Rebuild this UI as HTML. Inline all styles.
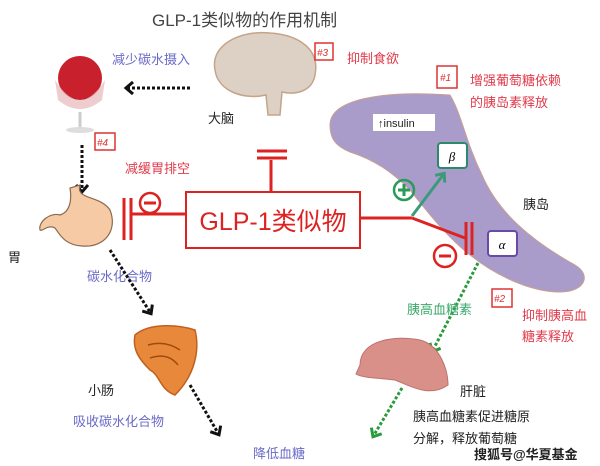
<!DOCTYPE html>
<html><head><meta charset="utf-8"><style>
body{margin:0;background:#fff;}
svg{display:block;font-family:"Liberation Sans","Noto Sans CJK SC",sans-serif;}
.r{fill:#e03a4a;font-size:13px;}
.b{fill:#6a6ac8;font-size:13px;}
.k{fill:#222;font-size:13px;}
.g{fill:#3aa86a;font-size:13px;}
</style></head><body>
<svg width="600" height="466" viewBox="0 0 600 466">
<defs>
<marker id="ak" markerUnits="userSpaceOnUse" markerWidth="12" markerHeight="14" refX="6" refY="7" orient="auto"><path d="M1,1 L8,7 L1,13" fill="none" stroke="#111" stroke-width="3"/></marker>
<marker id="ag" markerUnits="userSpaceOnUse" markerWidth="12" markerHeight="14" refX="6" refY="7" orient="auto"><path d="M1,1 L8,7 L1,13" fill="none" stroke="#2a9a3a" stroke-width="3"/></marker>
<marker id="at" markerUnits="userSpaceOnUse" markerWidth="12" markerHeight="14" refX="6" refY="7" orient="auto"><path d="M1,1 L8,7 L1,13" fill="none" stroke="#3a9a7a" stroke-width="3"/></marker>
</defs>
<text x="152" y="26" font-size="17" fill="#444">GLP-1类似物的作用机制</text>
<path d="M215,70 C210,45 240,30 270,33 C300,35 320,50 315,75 C312,92 295,95 282,92 L280,115 L268,115 L266,95 C245,100 218,92 215,70Z" fill="#ddd0c4" stroke="#c4a58a" stroke-width="1.5"/>
<rect x="315" y="43" width="18" height="17" fill="none" stroke="#d33" stroke-width="1.5"/>
<text x="317" y="56" font-size="10" fill="#d33" font-style="italic">#3</text>
<text x="347" y="63" class="r">抑制食欲</text>
<text x="208" y="123" class="k">大脑</text>
<ellipse cx="80" cy="78" rx="22" ry="22" fill="#c8202c"/>
<path d="M55,80 Q80,120 105,80 L102,100 Q80,118 58,100Z" fill="#e8c0c4" opacity="0.8"/>
<line x1="80" y1="112" x2="80" y2="128" stroke="#ccc" stroke-width="3"/>
<ellipse cx="80" cy="130" rx="14" ry="3" fill="#ddd"/>
<text x="112" y="64" class="b">减少碳水摄入</text>
<line x1="190" y1="88" x2="128" y2="88" stroke="#111" stroke-width="3" stroke-dasharray="3,2" marker-end="url(#ak)"/>
<line x1="82" y1="145" x2="82" y2="190" stroke="#111" stroke-width="3" stroke-dasharray="3,2" marker-end="url(#ak)"/>
<rect x="95" y="133" width="20" height="17" fill="none" stroke="#d33" stroke-width="1.5"/>
<text x="97" y="146" font-size="10" fill="#d33" font-style="italic">#4</text>
<text x="125" y="173" class="r">减缓胃排空</text>
<path d="M80,185 C75,200 100,195 110,210 C118,230 105,248 82,246 C65,245 60,235 55,228 C48,224 42,232 40,230 C38,222 50,212 60,215 C70,212 72,200 70,188Z" fill="#f6caa4" stroke="#8a6a50" stroke-width="1.2"/>
<text x="8" y="262" class="k">胃</text>
<line x1="186" y1="214" x2="130" y2="214" stroke="#d22" stroke-width="3"/>
<line x1="124" y1="198" x2="124" y2="240" stroke="#d22" stroke-width="3"/>
<line x1="131" y1="198" x2="131" y2="240" stroke="#d22" stroke-width="3"/>
<circle cx="150" cy="203" r="10" fill="none" stroke="#d22" stroke-width="2.5"/>
<line x1="144" y1="203" x2="156" y2="203" stroke="#d22" stroke-width="3"/>
<line x1="271" y1="160" x2="271" y2="192" stroke="#d22" stroke-width="3"/>
<line x1="257" y1="151" x2="287" y2="151" stroke="#d22" stroke-width="3"/>
<line x1="257" y1="158" x2="287" y2="158" stroke="#d22" stroke-width="3"/>
<rect x="186" y="192" width="174" height="56" fill="#fff" stroke="#d22" stroke-width="2"/>
<text x="273" y="230" text-anchor="middle" font-size="25" fill="#d22">GLP-1类似物</text>
<path d="M330,125 C330,100 380,90 450,95 C462,115 465,140 482,175 C498,212 530,240 575,265 C592,275 585,292 560,292 C530,292 495,275 470,255 C448,238 430,215 410,190 C392,172 375,160 350,152 C335,146 330,138 330,125Z" fill="#a99ccb" stroke="#c8a090" stroke-width="1"/>
<rect x="373" y="114" width="62" height="17" fill="#fff"/>
<text x="378" y="127" font-size="11" fill="#222">↑insulin</text>
<rect x="438" y="143" width="29" height="25" rx="3" fill="#fff" stroke="#2a8a6a" stroke-width="2"/>
<text x="452" y="161" text-anchor="middle" font-size="13" font-style="italic" font-family="Liberation Serif,serif">β</text>
<rect x="488" y="231" width="29" height="25" rx="3" fill="#fff" stroke="#6a4aa8" stroke-width="2"/>
<text x="502" y="249" text-anchor="middle" font-size="13" font-style="italic" font-family="Liberation Serif,serif">α</text>
<text x="523" y="209" class="k">胰岛</text>
<rect x="437" y="66" width="20" height="22" fill="none" stroke="#d33" stroke-width="1.5"/>
<text x="440" y="81" font-size="10" fill="#d33" font-style="italic">#1</text>
<text x="470" y="85" class="r">增强葡萄糖依赖</text>
<text x="470" y="107" class="r">的胰岛素释放</text>
<line x1="360" y1="218" x2="412" y2="218" stroke="#d22" stroke-width="3"/>
<line x1="412" y1="218" x2="465" y2="238" stroke="#d22" stroke-width="3"/>
<line x1="466" y1="222" x2="466" y2="255" stroke="#d22" stroke-width="3"/>
<line x1="472" y1="222" x2="472" y2="255" stroke="#d22" stroke-width="3"/>
<line x1="412" y1="216" x2="443" y2="175" stroke="#3a9a7a" stroke-width="3" marker-end="url(#at)"/>
<circle cx="404" cy="190" r="10" fill="none" stroke="#2a9a5a" stroke-width="2.5"/>
<line x1="398" y1="190" x2="410" y2="190" stroke="#2a9a5a" stroke-width="3"/>
<line x1="404" y1="184" x2="404" y2="196" stroke="#2a9a5a" stroke-width="3"/>
<circle cx="445" cy="256" r="11" fill="none" stroke="#d22" stroke-width="2.5"/>
<line x1="439" y1="256" x2="451" y2="256" stroke="#d22" stroke-width="3"/>
<line x1="478" y1="263" x2="433" y2="350" stroke="#2a9a3a" stroke-width="3" stroke-dasharray="3,2" marker-end="url(#ag)"/>
<text x="407" y="314" class="g">胰高血糖素</text>
<rect x="492" y="289" width="20" height="18" fill="none" stroke="#d33" stroke-width="1.5"/>
<text x="494" y="302" font-size="10" fill="#d33" font-style="italic">#2</text>
<text x="522" y="320" class="r">抑制胰高血</text>
<text x="522" y="341" class="r">糖素释放</text>
<path d="M360,365 C360,340 395,335 420,340 C440,345 448,370 448,385 C430,398 410,386 395,380 C380,378 362,378 356,374Z" fill="#d99088" stroke="#c07070" stroke-width="1"/>
<text x="460" y="396" class="k">肝脏</text>
<line x1="402" y1="388" x2="374" y2="435" stroke="#2a9a3a" stroke-width="3" stroke-dasharray="3,2" marker-end="url(#ag)"/>
<text x="413" y="421" class="k">胰高血糖素促进糖原</text>
<text x="413" y="443" class="k">分解，释放葡萄糖</text>
<text x="474" y="459" font-size="13" fill="#222" font-weight="bold">搜狐号@华夏基金</text>
<text x="87" y="281" class="b">碳水化合物</text>
<line x1="110" y1="250" x2="150" y2="312" stroke="#111" stroke-width="3" stroke-dasharray="3,2" marker-end="url(#ak)"/>
<path d="M135,335 C150,322 180,325 195,330 C200,350 195,375 175,395 C160,390 160,375 150,370 C140,360 132,350 135,335Z" fill="#e8883a" stroke="#c06020" stroke-width="1.5"/>
<path d="M148,345 Q165,340 180,350 M150,358 Q168,352 178,365" stroke="#a04a10" fill="none" stroke-width="1.5"/>
<text x="88" y="395" class="k">小肠</text>
<text x="73" y="426" class="b">吸收碳水化合物</text>
<line x1="190" y1="385" x2="218" y2="433" stroke="#111" stroke-width="3" stroke-dasharray="3,2" marker-end="url(#ak)"/>
<text x="253" y="458" class="b">降低血糖</text>
</svg>
</body></html>
